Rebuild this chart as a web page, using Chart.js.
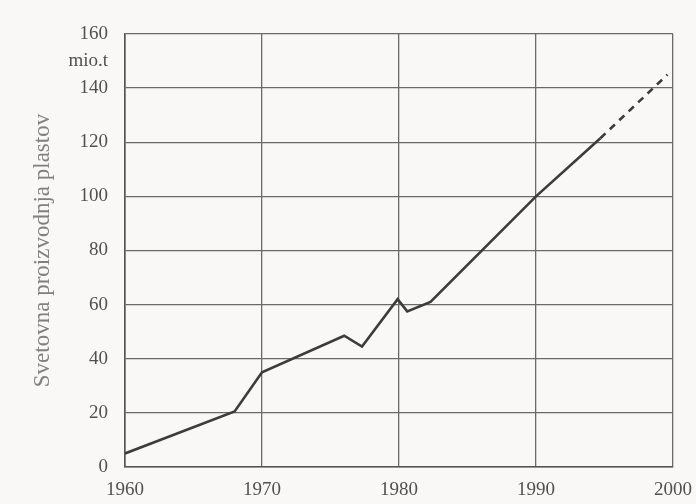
<!DOCTYPE html>
<html><head><meta charset="utf-8">
<script src="https://cdn.jsdelivr.net/npm/chart.js@4/dist/chart.umd.min.js"></script>
<style>html,body{margin:0;padding:0;background:#f9f8f7;}#wrap{width:696px;height:504px;position:relative;}</style>
</head><body><div id="wrap"><canvas id="c"></canvas></div>
<script>
const years = [1960, 1968, 1970, 1976, 1977.3, 1979.9, 1980.6, 1982.3, 1990, 1994.7];
const production = [5, 20.5, 35, 48.5, 44.5, 62, 57.5, 61, 100, 121.5];
const projYears = [1994.7, 1999.6];
const projProduction = [121.5, 145];
const xTicks = [1960, 1970, 1980, 1990, 2000];
const yTicks = [0, 20, 40, 60, 80, 100, 120, 140, 160];
const unitLabel = 'mio.t';
const axisTitle = 'Svetovna proizvodnja plastov';

const toPts = (xs, ys) => xs.map((x, i) => ({x: x, y: ys[i]}));
const serif = "'Liberation Serif', 'DejaVu Serif', serif";

const unitPlugin = {
  id: 'unitLabel',
  afterDraw(chart) {
    const y = chart.scales.y;
    const ctx = chart.ctx;
    ctx.save();
    ctx.font = "19px " + serif;
    ctx.fillStyle = '#505050';
    ctx.textAlign = 'right';
    ctx.textBaseline = 'middle';
    ctx.fillText(unitLabel, y.right - 17, y.getPixelForValue(yTicks[yTicks.length - 1]) + 27);
    ctx.restore();
  }
};

new Chart(document.getElementById('c'), {
  type: 'scatter',
  data: {
    datasets: [
      {data: toPts(years, production), showLine: true, borderColor: '#3c3c3c', borderWidth: 2.6, pointRadius: 0, tension: 0},
      {data: toPts(projYears, projProduction), showLine: true, borderColor: '#3c3c3c', borderWidth: 2.6, borderDash: [7, 6], pointRadius: 0, tension: 0}
    ]
  },
  options: {
    responsive: true,
    maintainAspectRatio: false,
    animation: false,
    events: [],
    layout: {padding: {top: 34, right: 0, left: 0, bottom: 0}},
    plugins: {legend: {display: false}, tooltip: {enabled: false}},
    scales: {
      x: {
        type: 'linear', min: xTicks[0], max: xTicks[xTicks.length - 1],
        afterBuildTicks(s) { s.ticks = xTicks.map(v => ({value: v})); },
        afterFit(s) { s.height = 37; s.paddingRight = 23; s.paddingLeft = 0; },
        ticks: {callback: v => String(v), font: {family: serif, size: 19}, color: '#505050', padding: 12, maxRotation: 0},
        grid: {color: '#6a6a6a', lineWidth: 1.3, drawTicks: false},
        border: {display: true, color: '#555', width: 1.6}
      },
      y: {
        type: 'linear', min: yTicks[0], max: yTicks[yTicks.length - 1],
        afterBuildTicks(s) { s.ticks = yTicks.map(v => ({value: v})); },
        afterFit(s) { s.width = 125; },
        ticks: {callback: v => String(v), font: {family: serif, size: 19}, color: '#505050', padding: 17},
        grid: {color: '#6a6a6a', lineWidth: 1.3, drawTicks: false},
        border: {display: true, color: '#555', width: 1.6},
        title: {display: true, text: axisTitle, font: {family: serif, size: 23}, color: '#808080', padding: {top: 29, bottom: 0}}
      }
    }
  },
  plugins: [unitPlugin]
});
</script>
</body></html>
